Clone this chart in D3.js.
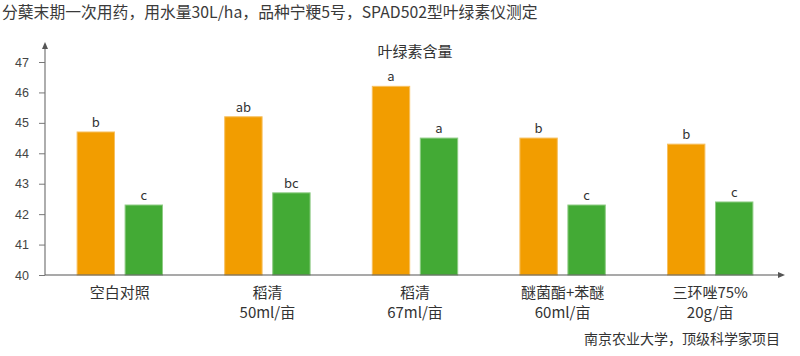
<!DOCTYPE html>
<html><head><meta charset="utf-8">
<script src="https://cdn.jsdelivr.net/npm/d3@7"></script>
<style>
html,body{margin:0;padding:0;background:#fff;}
svg{display:block;font-family:"Noto Sans CJK SC","Noto Sans",sans-serif;}
</style></head>
<body>
<script>
const categories = [["空白对照"], ["稻清", "50ml/亩"], ["稻清", "67ml/亩"], ["醚菌酯+苯醚", "60ml/亩"], ["三环唑75%", "20g/亩"]];
const seriesNames = ["orange", "green"];
const orangeValues = [44.7, 45.2, 46.2, 44.5, 44.3];
const greenValues = [42.3, 42.7, 44.5, 42.3, 42.4];
const orangeLetters = ["b", "ab", "a", "b", "b"];
const greenLetters = ["c", "bc", "a", "c", "c"];
const yTicks = [40, 41, 42, 43, 44, 45, 46, 47];
const colors = {orange: "#F29D00", green: "#43AA35"};
const strokeColors = {orange: "#F7C060", green: "#8FCC85"};

const W = 800, H = 356;
const svg = d3.select("body").append("svg").attr("width", W).attr("height", H);

svg.append("text").attr("x", 2).attr("y", 18).attr("font-size", 15.8).attr("fill", "#3a3a3a")
  .text("分蘖末期一次用药，用水量30L/ha，品种宁粳5号，SPAD502型叶绿素仪测定");

svg.append("text").attr("x", 415).attr("y", 57).attr("text-anchor", "middle").attr("font-size", 15).attr("fill", "#333")
  .text("叶绿素含量");

const y = d3.scaleLinear().domain([40, 47]).range([275, 62]);
const x = d3.scaleBand().domain(d3.range(categories.length)).range([46, 784]);
const sub = d3.scaleBand().domain(seriesNames).range([-48, 48]).paddingInner(0.2).paddingOuter(0.1);

const data = [];
categories.forEach((c, i) => {
  data.push({i, s: "orange", v: orangeValues[i], l: orangeLetters[i]});
  data.push({i, s: "green", v: greenValues[i], l: greenLetters[i]});
});

const cx = i => x(i) + x.bandwidth() / 2;

svg.append("g").selectAll("rect").data(data).join("rect")
  .attr("x", d => cx(d.i) + sub(d.s) + 0.5)
  .attr("y", d => y(d.v))
  .attr("width", sub.bandwidth() - 1)
  .attr("height", d => y(40) - y(d.v))
  .attr("fill", d => colors[d.s])
  .attr("stroke", d => strokeColors[d.s]).attr("stroke-width", 1);

svg.append("g").selectAll("text").data(data).join("text")
  .attr("x", d => cx(d.i) + sub(d.s) + sub.bandwidth() / 2)
  .attr("y", d => y(d.v) - 5)
  .attr("text-anchor", "middle").attr("font-size", 13).attr("fill", "#333")
  .text(d => d.l);

// y axis
const yAxis = d3.axisLeft(y).tickValues(yTicks).tickFormat(d3.format("d")).tickSize(6).tickPadding(10);
const gy = svg.append("g").attr("transform", "translate(45,0)").call(yAxis);
gy.select(".domain").remove();
gy.selectAll(".tick line").attr("stroke", "#777");
gy.selectAll(".tick text").attr("font-size", 12.5).attr("fill", "#444").attr("font-family", "\"Liberation Sans\",Arial,sans-serif");
svg.append("line").attr("x1", 45).attr("x2", 45).attr("y1", y(40)).attr("y2", 46).attr("stroke", "#777").attr("stroke-width", 1.2);
svg.append("path").attr("d", "M45,42 L42,49 L48,49 Z").attr("fill", "#555");

// x axis
svg.append("line").attr("x1", 45).attr("x2", 781).attr("y1", y(40)).attr("y2", y(40)).attr("stroke", "#555").attr("stroke-width", 1.2);
svg.append("path").attr("d", `M785,${y(40)} L778,${y(40)-3} L778,${y(40)+3} Z`).attr("fill", "#555");

const xl = svg.append("g").selectAll("text").data(categories).join("text")
  .attr("text-anchor", "middle").attr("font-size", 15).attr("fill", "#333")
  .attr("transform", (d, i) => `translate(${cx(i)},0)`);
xl.each(function(d) {
  d3.select(this).selectAll("tspan").data(d).join("tspan")
    .attr("x", 0).attr("y", (t, j) => 298 + j * 20).text(t => t);
});

svg.append("text").attr("x", 780).attr("y", 344).attr("text-anchor", "end").attr("font-size", 14).attr("fill", "#333")
  .text("南京农业大学，顶级科学家项目");
</script>
</body></html>
